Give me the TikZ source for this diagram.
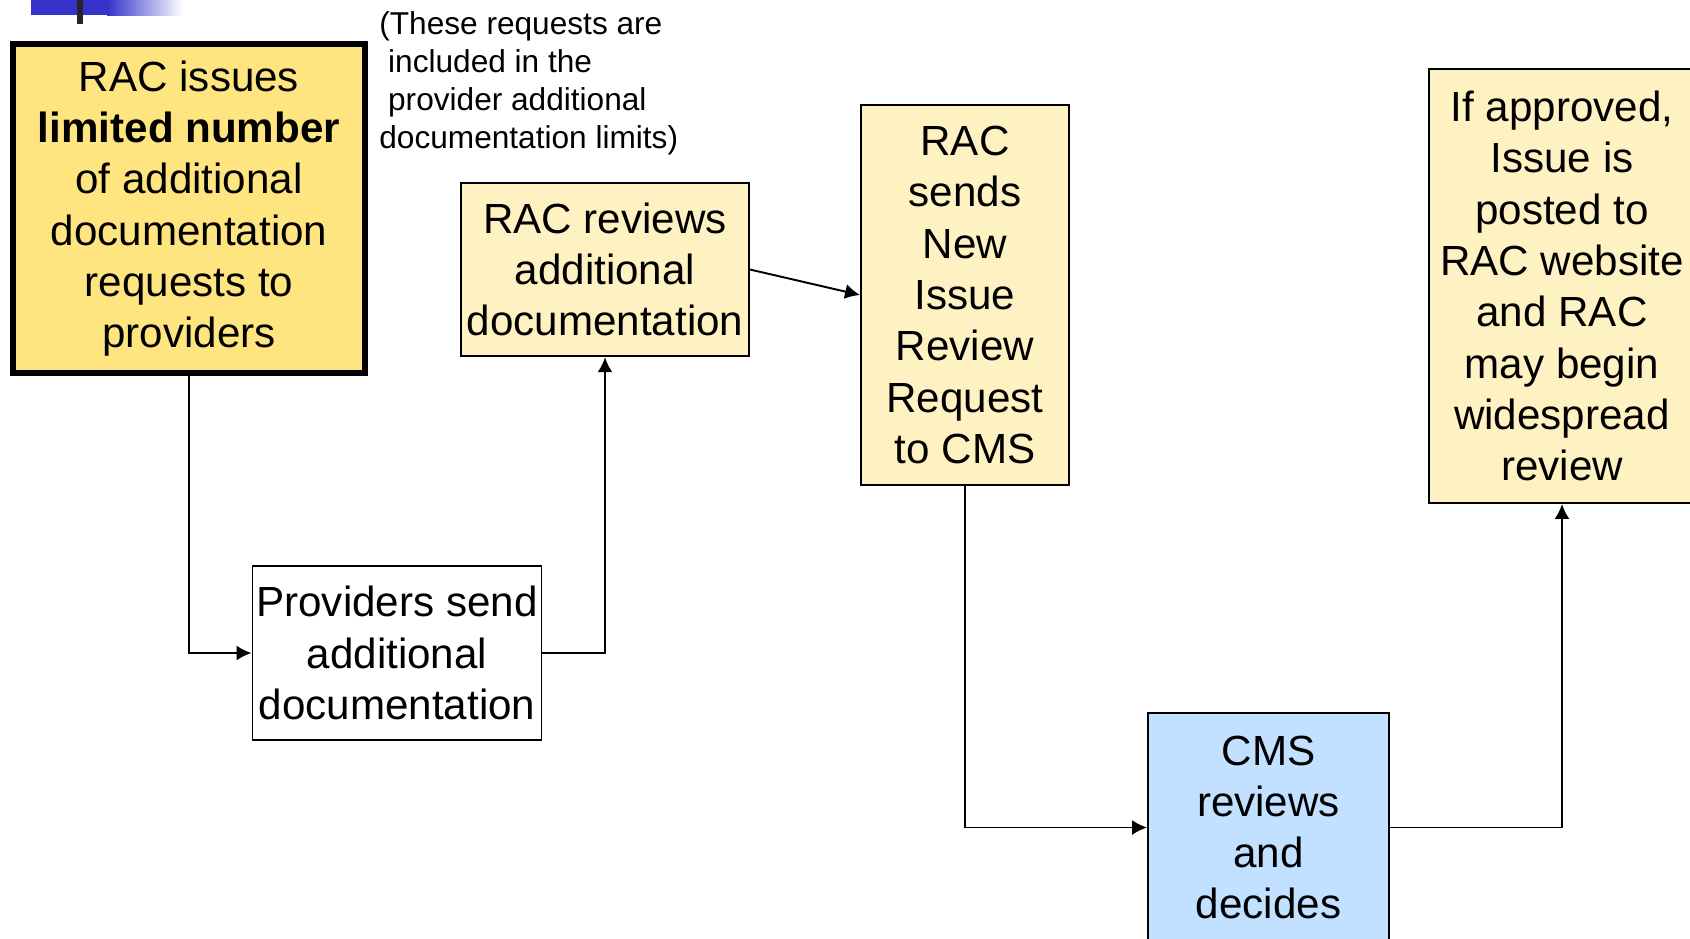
\documentclass[tikz,border=0pt]{standalone}
\usepackage{fontspec}
\setmainfont{Liberation Sans}
\usetikzlibrary{arrows.meta, positioning}
\definecolor{racyellow}{HTML}{FFE57F}
\definecolor{cream}{HTML}{FFF2C2}
\definecolor{cmsblue}{HTML}{C2E0FF}
\definecolor{barblue}{HTML}{3333CC}
\tikzstyle{mainstep} = [rectangle, line width=3.4pt, draw=black, fill=racyellow, inner sep=0pt, align=center, font=\fontsize{24}{29.2}\selectfont]
\tikzstyle{process} = [rectangle, line width=1.1pt, draw=black, fill=cream, inner sep=0pt, align=center, font=\fontsize{24}{29.2}\selectfont]
\tikzstyle{provider} = [process, fill=white]
\tikzstyle{cms} = [process, fill=cmsblue]
\tikzstyle{note} = [inner sep=0pt, align=left, font=\fontsize{18}{21.6}\selectfont]
\tikzstyle{arrow} = [line width=1.1pt,->,>={Latex[length=0.3cm,width=0.3cm]}]

\begin{document}
\begin{tikzpicture}[x=0.02cm, y=-0.02cm]
\useasboundingbox (0,0) rectangle (1690,938);

% slide corner decoration
\fill [barblue] (31,0) rectangle (107,15);
\shade [left color=barblue, right color=white] (107,0) rectangle (183,15);
\fill [black!85] (77,0) rectangle (83,24);

%% boxes
\node (issue) [mainstep, minimum width=7.04cm, minimum height=6.58cm] at (189,208.5) {RAC issues\\\textbf{limited number}\\of additional\\documentation\\requests to\\providers};
\node (limits) [note, anchor=west] at (379,83.5) {(These requests are\\\hspace{0.278em}included in the\\\hspace{0.278em}provider additional\\documentation limits)};
\node (review) [process, minimum width=5.76cm, minimum height=3.47cm] at (605,269.5) {RAC reviews\\additional\\documentation};
\node (send) [provider, minimum width=5.78cm, minimum height=3.48cm] at (397,653) {Providers send\\additional\\documentation};
\node (request) [process, minimum width=4.16cm, minimum height=7.6cm] at (965,295) {RAC\\sends\\New\\Issue\\Review\\Request\\to CMS};
\node (decide) [cms, minimum width=4.82cm, minimum height=4.6cm] at (1268.5,827.5) {CMS\\reviews\\and\\decides};
\node (post) [process, minimum width=5.32cm, minimum height=8.68cm] at (1562,286) {If approved,\\Issue is\\posted to\\RAC website\\and RAC\\may begin\\widespread\\review};

%% connectors
\draw [arrow] (issue.south) |- (send.west);
\draw [arrow] (send.east) -| (review.south);
\draw [arrow] (review.east) -- (request.west);
\draw [arrow] (request.south) |- (decide.west);
\draw [arrow] (decide.east) -| (post.south);

\end{tikzpicture}
\end{document}
